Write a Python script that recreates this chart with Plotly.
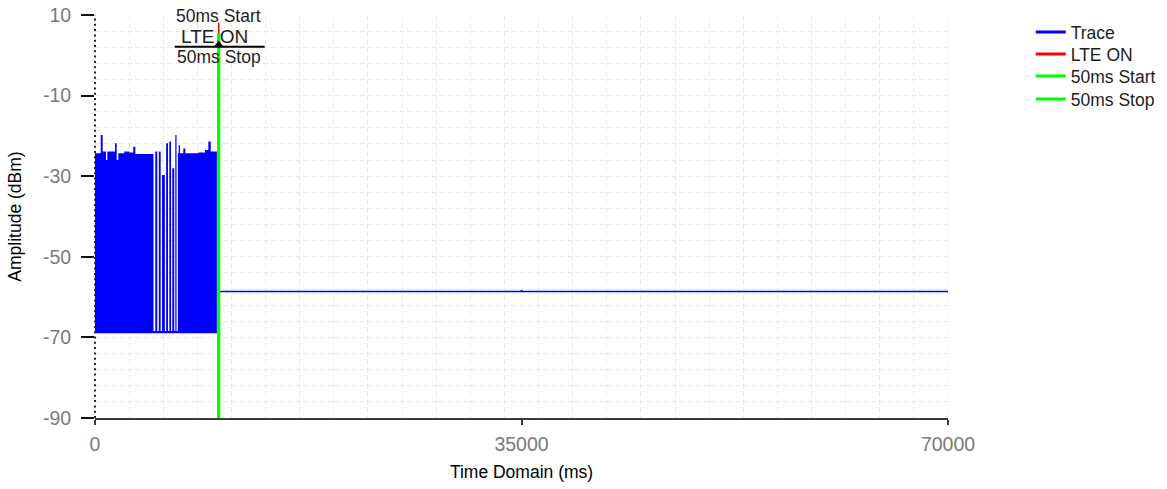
import plotly.graph_objects as go

# ---------------- data ----------------
# dense (LTE active) part of the trace: envelope of the rapidly oscillating signal
seg_start_ms = [0, 470, 630, 900, 1010, 1640, 1780, 1910, 2400, 2810,
                3140, 3310, 4800, 4950, 5110, 5240, 5390, 5500, 5730, 5840,
                5990, 6100, 6240, 6340, 6500, 6590, 6690, 6800, 6870, 6980,
                7250, 7410, 8480, 9030, 9300, 9500]
seg_top_dbm = [-24.3, -19.8, -23.9, -26.0, -23.9, -21.8, -26.0, -24.3, -23.9, -24.1,
               -22.7, -24.5, -68.4, -23.9, -68.4, -23.9, -68.4, -29.7, -68.4, -21.8,
               -68.4, -21.4, -68.4, -28.0, -68.4, -19.8, -68.4, -24.3, -22.3, -24.3,
               -23.1, -24.3, -24.1, -23.5, -21.4, -23.9]
block_end_ms = 10000
block_floor_dbm = -69.0

# quiet part of the trace
after_ms = [10000, 34950, 35000, 35050, 70000]
after_dbm = [-58.6, -58.6, -58.3, -58.6, -58.6]

# markers
lte_on_ms = 10150
lte_on_top_dbm = 8.1
start_ms = 10150
stop_ms = 10150
green_top_dbm = 5.5
marker_label_dbm = 2.7
marker_bar_dbm = 2.1

x_range = [0, 70000]
y_range = [-90, 10]
x_tick_vals = [0, 35000, 70000]
x_tick_text = ["0", "35000", "70000"]
y_tick_vals = [-90, -70, -50, -30, -10, 10]
y_tick_text = ["-90", "-70", "-50", "-30", "-10", "10"]

legend_names = ["Trace", "LTE ON", "50ms Start", "50ms Stop"]
legend_colors = ["#0000FF", "#FF0000", "#00FF00", "#00FF00"]

FONT = "Liberation Sans, Arial, sans-serif"
GRID = "#e9e9e9"

W, H = 1167, 489
L, T, R, B = 95, 15, 219, 71

fig = go.Figure()

# dense block (filled envelope)
bx = [0] + seg_start_ms + [block_end_ms, block_end_ms]
by = [block_floor_dbm] + seg_top_dbm + [seg_top_dbm[-1], block_floor_dbm]
fig.add_trace(go.Scatter(x=bx, y=by, mode="lines", line=dict(width=0, shape="hv", color="#0000FF"),
                         fill="toself", fillcolor="#0000FF", showlegend=False, hoverinfo="skip"))
# quiet line
fig.add_trace(go.Scatter(x=after_ms, y=after_dbm, mode="lines",
                         line=dict(color="#0000FF", width=1.6), showlegend=False))
# LTE ON marker line
fig.add_trace(go.Scatter(x=[lte_on_ms, lte_on_ms], y=[lte_on_top_dbm, y_range[0]], mode="lines",
                         line=dict(color="#FF0000", width=1.5), showlegend=False))
# 50ms start / stop
fig.add_trace(go.Scatter(x=[start_ms, start_ms], y=[green_top_dbm, y_range[0]], mode="lines",
                         line=dict(color="#00FF00", width=3), showlegend=False))
fig.add_trace(go.Scatter(x=[stop_ms, stop_ms], y=[green_top_dbm, y_range[0]], mode="lines",
                         line=dict(color="#00FF00", width=3), showlegend=False))
# triangle on LTE ON
fig.add_trace(go.Scatter(x=[lte_on_ms], y=[marker_label_dbm], mode="markers",
                         marker=dict(symbol="triangle-up", size=8, color="black"),
                         showlegend=False, cliponaxis=False))

# legend entries (each in its own legend for exact spacing)
legend_y_px = [32, 54, 76, 99]
for i, (nm, col) in enumerate(zip(legend_names, legend_colors)):
    key = "legend" if i == 0 else f"legend{i+1}"
    fig.add_trace(go.Scatter(x=[None], y=[None], mode="lines", name=nm,
                             line=dict(color=col, width=3), legend=key))

plot_top, plot_h = 15, 403
legend_cfg = {}
for i, py in enumerate(legend_y_px):
    key = "legend" if i == 0 else f"legend{i+1}"
    legend_cfg[key] = dict(x=1.097, xanchor="left", y=1 - (py - plot_top) / plot_h, yanchor="middle",
                           font=dict(family=FONT, size=17.5, color="#1e1e1e"),
                           bgcolor="rgba(0,0,0,0)", borderwidth=0)

# horizontal bar under LTE ON
shapes = [
    dict(type="line", xref="x", yref="y", xsizemode="pixel", xanchor=lte_on_ms,
         x0=-44, x1=46, y0=marker_bar_dbm, y1=marker_bar_dbm, line=dict(color="black", width=2)),
    # dotted y axis line
    dict(type="line", xref="paper", yref="paper", x0=0, x1=0, y0=0, y1=1,
         line=dict(color="#222222", width=2, dash="2px,3.3px")),
    # right edge grid line
    dict(type="line", xref="x", yref="paper", x0=x_range[1], x1=x_range[1], y0=0, y1=1,
         line=dict(color=GRID, width=1, dash="5px,3px"), layer="below"),
]

annotations = [
    dict(x=start_ms, y=9.75, xref="x", yref="y", text="50ms Start", showarrow=False,
         xanchor="center", yanchor="middle", font=dict(family=FONT, size=17.5, color="#1e1e1e")),
    dict(x=lte_on_ms, y=4.7, xref="x", yref="y", text="LTE ON", showarrow=False, xshift=-4,
         xanchor="center", yanchor="middle", font=dict(family=FONT, size=19, color="#1e1e1e")),
    dict(x=stop_ms, y=-0.3, xref="x", yref="y", text="50ms Stop", showarrow=False,
         xanchor="center", yanchor="middle", font=dict(family=FONT, size=17.5, color="#1e1e1e")),
]

fig.update_layout(
    width=W, height=H,
    margin=dict(l=L, r=R, t=T, b=B, autoexpand=False),
    paper_bgcolor="white", plot_bgcolor="white",
    font=dict(family=FONT, size=17.5, color="black"),
    shapes=shapes, annotations=annotations,
    **legend_cfg,
    xaxis=dict(range=x_range, tickmode="array", tickvals=x_tick_vals, ticktext=x_tick_text,
               automargin=False,
               showgrid=False, zeroline=False, showline=True, linecolor="#3a3a3a", linewidth=2,
               ticks="outside", ticklen=5, tickwidth=2, tickcolor="#3a3a3a",
               ticklabelstandoff=3, ticklabeloverflow="allow",
               tickfont=dict(family=FONT, size=19.5, color="#7a7a7a"),
               minor=dict(dtick=2800, tick0=0, showgrid=True, gridcolor=GRID, griddash="5px,3px",
                          gridwidth=1, ticks=""),
               title=dict(text="Time Domain (ms)", font=dict(family=FONT, size=17.5, color="black"),
                          standoff=11)),
    yaxis=dict(range=y_range, tickmode="array", tickvals=y_tick_vals, ticktext=y_tick_text,
               automargin=False,
               showgrid=True, gridcolor=GRID, griddash="5px,3px", gridwidth=1,
               zeroline=False, showline=False,
               ticks="outside", ticklen=13, tickwidth=2, tickcolor="#111111",
               ticklabelstandoff=6, ticklabeloverflow="allow",
               tickfont=dict(family=FONT, size=19.5, color="#7a7a7a"),
               minor=dict(dtick=4, tick0=-90, showgrid=True, gridcolor=GRID, griddash="5px,3px",
                          gridwidth=1, ticks=""),
               title=dict(text="Amplitude (dBm)", font=dict(family=FONT, size=17.5, color="black"),
                          standoff=16)),
)

# remove the default 8px page margin so the figure sits at the window origin
fig.write_html("out.html", config={"displayModeBar": False},
               post_script="document.body.style.margin='0px';")
